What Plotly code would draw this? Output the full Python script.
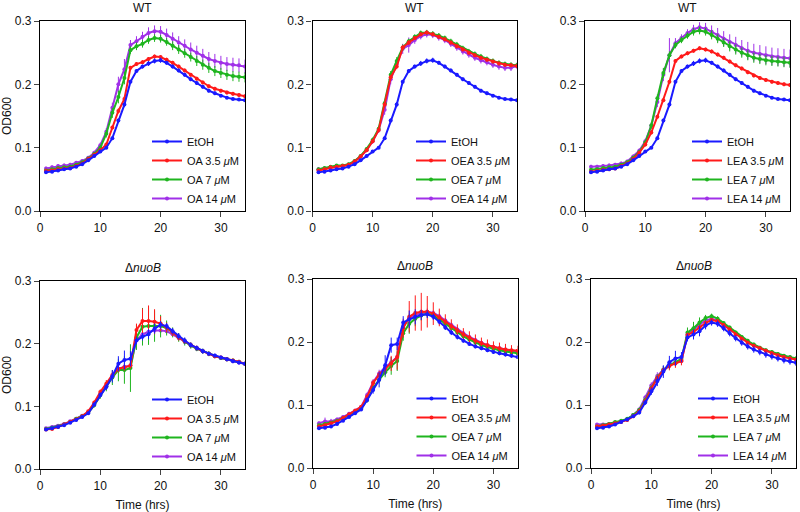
import plotly.graph_objects as go

# ---------------- data ----------------
time_hrs = list(range(1, 35))
x_ticks = [0, 10, 20, 30]
y_ticks = [0.0, 0.1, 0.2, 0.3]

series_names_oa = ["EtOH", "OA 3.5 <i>μ</i>M", "OA 7 <i>μ</i>M", "OA 14 <i>μ</i>M"]
series_names_oea = ["EtOH", "OEA 3.5 <i>μ</i>M", "OEA 7 <i>μ</i>M", "OEA 14 <i>μ</i>M"]
series_names_lea = ["EtOH", "LEA 3.5 <i>μ</i>M", "LEA 7 <i>μ</i>M", "LEA 14 <i>μ</i>M"]
panel_titles = ["WT", "WT", "WT", "Δ<i>nuoB</i>", "Δ<i>nuoB</i>", "Δ<i>nuoB</i>"]

# WT control
wt_etoh = [0.061,0.062,0.064,0.066,0.067,0.070,0.074,0.080,0.087,0.094,0.100,0.115,0.143,0.168,0.204,0.221,0.228,0.233,0.237,0.238,0.234,0.228,0.222,0.215,0.208,0.202,0.196,0.190,0.186,0.182,0.179,0.177,0.176,0.175]
wt_etoh_err = [0.002,0.002,0.002,0.002,0.002,0.002,0.002,0.002,0.002,0.002,0.002,0.003,0.003,0.004,0.003,0.003,0.003,0.004,0.004,0.004,0.003,0.003,0.003,0.003,0.003,0.003,0.003,0.003,0.003,0.002,0.002,0.002,0.002,0.002]

# WT OA
wt_oa35 = [0.063,0.064,0.066,0.067,0.068,0.071,0.075,0.082,0.089,0.096,0.105,0.132,0.158,0.177,0.226,0.232,0.235,0.240,0.244,0.243,0.239,0.234,0.228,0.222,0.215,0.209,0.203,0.197,0.193,0.190,0.187,0.185,0.183,0.181]
wt_oa35_err = [0.002,0.002,0.002,0.002,0.002,0.002,0.002,0.002,0.002,0.002,0.003,0.003,0.004,0.004,0.003,0.003,0.003,0.003,0.003,0.003,0.003,0.003,0.003,0.003,0.003,0.003,0.003,0.003,0.003,0.003,0.003,0.003,0.003,0.003]
wt_oa7 = [0.064,0.066,0.068,0.069,0.070,0.073,0.077,0.083,0.090,0.100,0.122,0.155,0.180,0.210,0.254,0.260,0.264,0.270,0.273,0.272,0.267,0.261,0.255,0.249,0.243,0.237,0.231,0.226,0.221,0.218,0.215,0.213,0.212,0.211]
wt_oa7_err = [0.002,0.002,0.002,0.002,0.002,0.002,0.002,0.002,0.003,0.004,0.006,0.008,0.010,0.010,0.006,0.006,0.006,0.006,0.006,0.006,0.006,0.007,0.007,0.007,0.007,0.008,0.008,0.008,0.008,0.008,0.008,0.008,0.008,0.008]
wt_oa14 = [0.067,0.069,0.071,0.072,0.073,0.076,0.079,0.084,0.092,0.104,0.125,0.163,0.200,0.224,0.262,0.268,0.275,0.281,0.284,0.283,0.278,0.272,0.266,0.261,0.255,0.250,0.245,0.240,0.237,0.234,0.232,0.231,0.230,0.228]
wt_oa14_err = [0.003,0.003,0.003,0.003,0.003,0.003,0.003,0.003,0.003,0.004,0.006,0.008,0.012,0.016,0.008,0.008,0.008,0.009,0.009,0.009,0.010,0.010,0.010,0.010,0.011,0.011,0.011,0.011,0.011,0.011,0.011,0.011,0.011,0.011]

# WT OEA
wt_oea35 = [0.064,0.066,0.069,0.070,0.071,0.073,0.078,0.086,0.096,0.110,0.128,0.168,0.211,0.228,0.258,0.266,0.273,0.279,0.282,0.279,0.275,0.271,0.266,0.260,0.255,0.250,0.246,0.242,0.239,0.236,0.233,0.231,0.230,0.229]
wt_oea35_err = [0.002,0.002,0.002,0.002,0.002,0.002,0.002,0.002,0.003,0.003,0.004,0.004,0.004,0.004,0.004,0.004,0.003,0.003,0.003,0.003,0.003,0.003,0.003,0.003,0.003,0.003,0.003,0.003,0.003,0.003,0.003,0.003,0.003,0.003]
wt_oea7 = [0.066,0.068,0.070,0.072,0.072,0.074,0.079,0.087,0.098,0.112,0.130,0.170,0.215,0.237,0.258,0.268,0.275,0.281,0.282,0.280,0.277,0.273,0.268,0.263,0.257,0.252,0.248,0.244,0.240,0.237,0.234,0.232,0.231,0.230]
wt_oea7_err = [0.002,0.002,0.002,0.002,0.002,0.002,0.002,0.003,0.003,0.004,0.004,0.005,0.006,0.006,0.005,0.004,0.004,0.004,0.004,0.004,0.004,0.004,0.004,0.004,0.004,0.004,0.004,0.004,0.004,0.004,0.004,0.004,0.004,0.004]
wt_oea14 = [0.066,0.067,0.069,0.070,0.071,0.073,0.078,0.086,0.096,0.110,0.128,0.160,0.208,0.232,0.256,0.262,0.270,0.276,0.279,0.278,0.274,0.270,0.264,0.258,0.252,0.247,0.242,0.238,0.235,0.231,0.228,0.226,0.226,0.229]
wt_oea14_err = [0.003,0.003,0.003,0.003,0.003,0.003,0.003,0.003,0.003,0.004,0.005,0.008,0.008,0.006,0.008,0.012,0.006,0.005,0.005,0.005,0.005,0.005,0.005,0.005,0.005,0.005,0.005,0.005,0.005,0.005,0.005,0.005,0.005,0.005]

# WT LEA
wt_lea35 = [0.062,0.063,0.065,0.066,0.067,0.071,0.075,0.082,0.092,0.105,0.124,0.149,0.175,0.204,0.237,0.244,0.249,0.253,0.257,0.255,0.252,0.247,0.242,0.236,0.230,0.225,0.219,0.214,0.210,0.207,0.204,0.202,0.200,0.199]
wt_lea35_err = [0.002,0.002,0.002,0.002,0.002,0.002,0.002,0.002,0.002,0.003,0.003,0.003,0.003,0.003,0.003,0.003,0.003,0.003,0.003,0.003,0.003,0.003,0.003,0.003,0.003,0.003,0.003,0.003,0.003,0.003,0.003,0.003,0.003,0.003]
wt_lea7 = [0.065,0.066,0.068,0.069,0.070,0.073,0.077,0.084,0.093,0.108,0.135,0.178,0.218,0.246,0.262,0.270,0.277,0.283,0.285,0.283,0.278,0.272,0.266,0.260,0.255,0.250,0.246,0.242,0.240,0.238,0.237,0.236,0.235,0.234]
wt_lea7_err = [0.002,0.002,0.002,0.002,0.002,0.002,0.002,0.002,0.003,0.004,0.005,0.006,0.008,0.006,0.005,0.005,0.005,0.006,0.006,0.006,0.007,0.007,0.007,0.008,0.008,0.008,0.008,0.008,0.008,0.008,0.008,0.008,0.008,0.008]
wt_lea14 = [0.070,0.070,0.071,0.072,0.073,0.075,0.078,0.086,0.095,0.110,0.135,0.172,0.215,0.246,0.265,0.273,0.281,0.287,0.290,0.288,0.283,0.278,0.272,0.267,0.262,0.257,0.253,0.250,0.248,0.246,0.244,0.243,0.242,0.241]
wt_lea14_err = [0.003,0.003,0.003,0.003,0.003,0.003,0.003,0.003,0.004,0.004,0.005,0.008,0.010,0.027,0.008,0.006,0.006,0.007,0.008,0.009,0.010,0.011,0.012,0.012,0.013,0.013,0.014,0.014,0.014,0.014,0.014,0.014,0.014,0.014]

# dnuoB OA
nuo_oa_etoh = [0.063,0.065,0.067,0.070,0.074,0.078,0.083,0.089,0.103,0.118,0.131,0.148,0.168,0.174,0.176,0.205,0.211,0.215,0.224,0.230,0.228,0.220,0.212,0.205,0.198,0.193,0.188,0.184,0.181,0.178,0.175,0.172,0.170,0.168]
nuo_oa_etoh_err = [0.001,0.001,0.001,0.002,0.002,0.002,0.002,0.002,0.003,0.004,0.005,0.010,0.012,0.015,0.012,0.006,0.006,0.008,0.008,0.006,0.005,0.005,0.005,0.005,0.004,0.004,0.004,0.003,0.003,0.003,0.003,0.003,0.003,0.003]
nuo_oa35 = [0.063,0.064,0.067,0.071,0.075,0.079,0.084,0.092,0.106,0.123,0.136,0.150,0.160,0.162,0.165,0.222,0.236,0.236,0.235,0.232,0.226,0.218,0.210,0.204,0.198,0.193,0.188,0.184,0.180,0.178,0.175,0.173,0.171,0.168]
nuo_oa35_err = [0.001,0.001,0.001,0.002,0.002,0.002,0.002,0.002,0.003,0.004,0.006,0.006,0.006,0.005,0.005,0.010,0.020,0.025,0.020,0.012,0.008,0.006,0.005,0.004,0.004,0.004,0.003,0.003,0.003,0.003,0.003,0.003,0.003,0.003]
nuo_oa7 = [0.064,0.066,0.068,0.071,0.075,0.080,0.084,0.090,0.102,0.118,0.132,0.146,0.158,0.158,0.161,0.210,0.227,0.228,0.228,0.228,0.225,0.218,0.210,0.203,0.197,0.192,0.188,0.184,0.180,0.177,0.175,0.173,0.171,0.168]
nuo_oa7_err = [0.001,0.001,0.001,0.002,0.002,0.002,0.002,0.003,0.004,0.006,0.008,0.012,0.018,0.022,0.038,0.020,0.030,0.030,0.025,0.018,0.012,0.008,0.007,0.006,0.005,0.004,0.004,0.004,0.003,0.003,0.003,0.003,0.003,0.003]
nuo_oa14 = [0.065,0.067,0.069,0.072,0.076,0.080,0.085,0.090,0.102,0.118,0.132,0.147,0.160,0.163,0.165,0.206,0.215,0.219,0.221,0.221,0.220,0.215,0.209,0.203,0.197,0.192,0.188,0.184,0.180,0.177,0.175,0.172,0.170,0.168]
nuo_oa14_err = [0.002,0.002,0.002,0.002,0.002,0.002,0.002,0.002,0.003,0.003,0.004,0.004,0.005,0.005,0.005,0.005,0.005,0.004,0.004,0.004,0.004,0.004,0.004,0.003,0.003,0.003,0.003,0.003,0.003,0.003,0.003,0.003,0.003,0.003]

# dnuoB OEA
nuo_oea_etoh = [0.063,0.064,0.066,0.070,0.075,0.081,0.087,0.093,0.108,0.124,0.140,0.163,0.195,0.197,0.231,0.236,0.240,0.243,0.244,0.240,0.232,0.223,0.215,0.208,0.202,0.197,0.193,0.190,0.187,0.184,0.182,0.180,0.178,0.176]
nuo_oea_etoh_err = [0.002,0.002,0.002,0.002,0.002,0.002,0.002,0.002,0.004,0.006,0.012,0.016,0.012,0.010,0.010,0.014,0.012,0.008,0.006,0.005,0.004,0.004,0.004,0.004,0.003,0.003,0.003,0.003,0.003,0.003,0.003,0.003,0.003,0.003]
nuo_oea35 = [0.066,0.068,0.071,0.074,0.079,0.085,0.091,0.097,0.113,0.135,0.148,0.157,0.166,0.176,0.222,0.240,0.246,0.248,0.248,0.245,0.239,0.232,0.225,0.218,0.212,0.207,0.202,0.198,0.195,0.192,0.190,0.188,0.187,0.186]
nuo_oea35_err = [0.002,0.002,0.002,0.002,0.003,0.003,0.003,0.003,0.004,0.005,0.006,0.008,0.012,0.020,0.015,0.025,0.028,0.030,0.025,0.018,0.014,0.012,0.011,0.010,0.010,0.010,0.010,0.009,0.009,0.009,0.009,0.009,0.008,0.008]
nuo_oea7 = [0.068,0.070,0.072,0.075,0.079,0.084,0.089,0.095,0.108,0.127,0.140,0.152,0.162,0.170,0.214,0.229,0.237,0.242,0.245,0.242,0.236,0.229,0.222,0.215,0.209,0.204,0.199,0.195,0.192,0.189,0.187,0.185,0.183,0.182]
nuo_oea7_err = [0.002,0.002,0.002,0.002,0.002,0.003,0.003,0.003,0.004,0.005,0.006,0.008,0.014,0.016,0.012,0.016,0.012,0.008,0.006,0.005,0.004,0.004,0.004,0.004,0.004,0.004,0.004,0.004,0.004,0.004,0.004,0.004,0.004,0.004]
nuo_oea14 = [0.071,0.074,0.074,0.077,0.081,0.086,0.091,0.097,0.116,0.136,0.150,0.160,0.168,0.176,0.224,0.237,0.243,0.246,0.248,0.246,0.241,0.234,0.227,0.220,0.214,0.208,0.203,0.199,0.195,0.192,0.190,0.188,0.186,0.184]
nuo_oea14_err = [0.003,0.006,0.004,0.003,0.003,0.003,0.003,0.003,0.004,0.005,0.006,0.006,0.008,0.008,0.006,0.006,0.006,0.005,0.005,0.004,0.004,0.004,0.004,0.004,0.003,0.003,0.003,0.003,0.003,0.003,0.003,0.003,0.003,0.003]

# dnuoB LEA
nuo_lea_etoh = [0.063,0.064,0.066,0.069,0.073,0.077,0.082,0.088,0.104,0.122,0.138,0.153,0.168,0.174,0.176,0.207,0.212,0.217,0.226,0.231,0.229,0.222,0.214,0.206,0.199,0.193,0.188,0.184,0.180,0.177,0.174,0.171,0.169,0.167]
nuo_lea_etoh_err = [0.002,0.002,0.002,0.002,0.002,0.002,0.002,0.003,0.004,0.006,0.008,0.010,0.010,0.012,0.008,0.006,0.008,0.008,0.006,0.005,0.005,0.005,0.005,0.005,0.005,0.005,0.005,0.005,0.005,0.005,0.005,0.005,0.005,0.005]
nuo_lea35 = [0.066,0.067,0.069,0.071,0.073,0.076,0.082,0.090,0.106,0.126,0.143,0.155,0.162,0.166,0.170,0.211,0.216,0.223,0.230,0.235,0.233,0.227,0.220,0.212,0.205,0.199,0.194,0.190,0.186,0.182,0.179,0.176,0.174,0.172]
nuo_lea35_err = [0.002,0.002,0.002,0.002,0.002,0.002,0.002,0.003,0.003,0.003,0.004,0.005,0.007,0.007,0.007,0.004,0.004,0.003,0.003,0.003,0.003,0.003,0.003,0.003,0.003,0.003,0.003,0.003,0.003,0.003,0.003,0.003,0.003,0.003]
nuo_lea7 = [0.066,0.068,0.070,0.073,0.075,0.078,0.084,0.092,0.108,0.127,0.143,0.156,0.163,0.168,0.173,0.215,0.222,0.231,0.238,0.241,0.237,0.230,0.223,0.215,0.208,0.202,0.196,0.191,0.187,0.184,0.181,0.178,0.176,0.174]
nuo_lea7_err = [0.002,0.002,0.002,0.002,0.002,0.002,0.002,0.003,0.003,0.004,0.006,0.006,0.006,0.006,0.006,0.008,0.010,0.008,0.005,0.004,0.004,0.003,0.003,0.003,0.003,0.003,0.003,0.003,0.003,0.003,0.003,0.003,0.003,0.003]
nuo_lea14 = [0.069,0.069,0.070,0.072,0.074,0.077,0.084,0.093,0.112,0.131,0.146,0.156,0.163,0.167,0.170,0.212,0.219,0.228,0.234,0.237,0.234,0.227,0.220,0.213,0.206,0.200,0.195,0.190,0.186,0.183,0.180,0.177,0.175,0.173]
nuo_lea14_err = [0.002,0.002,0.002,0.002,0.002,0.002,0.003,0.003,0.004,0.005,0.006,0.006,0.005,0.005,0.004,0.004,0.004,0.004,0.004,0.003,0.003,0.003,0.003,0.003,0.003,0.003,0.003,0.003,0.003,0.003,0.003,0.003,0.003,0.003]

colors = ["#1a1aff", "#ff1a1a", "#1fb51f", "#a030e8"]

panels = [
    (series_names_oa, [wt_etoh, wt_oa35, wt_oa7, wt_oa14], [wt_etoh_err, wt_oa35_err, wt_oa7_err, wt_oa14_err]),
    (series_names_oea, [wt_etoh, wt_oea35, wt_oea7, wt_oea14], [wt_etoh_err, wt_oea35_err, wt_oea7_err, wt_oea14_err]),
    (series_names_lea, [wt_etoh, wt_lea35, wt_lea7, wt_lea14], [wt_etoh_err, wt_lea35_err, wt_lea7_err, wt_lea14_err]),
    (series_names_oa, [nuo_oa_etoh, nuo_oa35, nuo_oa7, nuo_oa14], [nuo_oa_etoh_err, nuo_oa35_err, nuo_oa7_err, nuo_oa14_err]),
    (series_names_oea, [nuo_oea_etoh, nuo_oea35, nuo_oea7, nuo_oea14], [nuo_oea_etoh_err, nuo_oea35_err, nuo_oea7_err, nuo_oea14_err]),
    (series_names_lea, [nuo_lea_etoh, nuo_lea35, nuo_lea7, nuo_lea14], [nuo_lea_etoh_err, nuo_lea35_err, nuo_lea7_err, nuo_lea14_err]),
]

# ---------------- layout (pixel boxes of each panel) ----------------
W, H = 800, 512
boxes = [  # left, right, top, bottom in px
    (40, 245, 21, 211),
    (312.5, 517, 21, 211),
    (585, 790, 21, 211),
    (40, 245, 281, 469),
    (313, 517.5, 279, 468),
    (591, 796, 279, 468),
]

FONT = "Liberation Sans, Arial, Helvetica, sans-serif"
fig = go.Figure()
layout = dict(
    template="none",
    width=W, height=H, margin=dict(l=0, r=0, t=0, b=0, autoexpand=False),
    paper_bgcolor="white", plot_bgcolor="white",
    font=dict(family=FONT, size=12, color="#111"),
    annotations=[],
)

for i, ((names, ys, errs), (l, r, t, b)) in enumerate(zip(panels, boxes)):
    k = "" if i == 0 else str(i + 1)
    leg = "legend" + k
    for j in [3, 2, 1, 0]:
        fig.add_trace(go.Scatter(
            x=time_hrs, y=ys[j], name=names[j], mode="lines+markers",
            xaxis="x" + k, yaxis="y" + k, legend=leg,
            line=dict(color=colors[j], width=2),
            marker=dict(color=colors[j], size=4),
            error_y=dict(type="data", array=errs[j], color=colors[j], thickness=1, width=0),
        ))
    xd = [l / W, r / W]
    yd = [1 - b / H, 1 - t / H]
    ax = dict(domain=xd, range=[0, 34], tickvals=x_ticks, ticks="outside", ticklen=5,
              tickwidth=1.3, showline=True, linecolor="black", linewidth=1.3, mirror=True,
              showgrid=False, zeroline=False, anchor="y" + k, tickfont=dict(size=12),
              automargin=False)
    ay = dict(domain=yd, range=[0, 0.3], tickvals=y_ticks, tickformat=".1f", ticks="outside",
              ticklen=5, tickwidth=1.3, showline=True, linecolor="black", linewidth=1.3,
              mirror=True, showgrid=False, zeroline=False, anchor="x" + k, tickfont=dict(size=12),
              automargin=False)
    if i in (0, 3):
        ay["title"] = dict(text="OD600", standoff=4, font=dict(size=12))
    if i >= 3:
        ax["title"] = dict(text="Time (hrs)", standoff=9, font=dict(size=12))
    layout["xaxis" + k] = ax
    layout["yaxis" + k] = ay
    layout[leg] = dict(
        x=(r - 1) / W, y=1 - (b + 2) / H, xanchor="right", yanchor="bottom",
        bgcolor="rgba(0,0,0,0)", font=dict(size=11), itemwidth=30,
        traceorder="reversed", tracegroupgap=0,
    )
    layout["annotations"].append(dict(
        text=panel_titles[i], xref="x" + k + " domain", yref="y" + k + " domain",
        x=0.5, y=1, xanchor="center", yanchor="bottom", yshift=4, showarrow=False,
        font=dict(size=12),
    ))

fig.update_layout(**layout)
fig.write_html("out.html", config={"displayModeBar": False},
               post_script="document.body.style.margin='0';document.body.style.overflow='hidden';")
